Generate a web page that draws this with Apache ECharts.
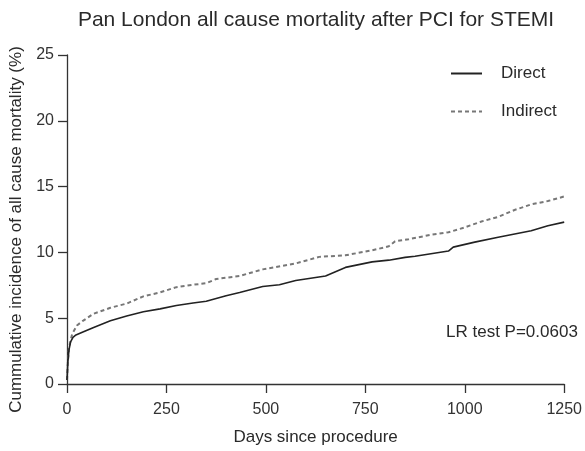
<!DOCTYPE html>
<html><head><meta charset="utf-8">
<script src="https://cdn.jsdelivr.net/npm/echarts@6/dist/echarts.min.js"></script>
<style>html,body{margin:0;padding:0;background:#fff}#c{width:585px;height:451px}</style>
</head><body><div id="c"></div>
<script>
var titleText = 'Pan London all cause mortality after PCI for STEMI';
var xName = 'Days since procedure';
var yName = 'Cummulative incidence of all cause mortality (%)';
var annotation = 'LR test P=0.0603';
var seriesNames = ['Direct', 'Indirect'];
var xTicks = [0, 250, 500, 750, 1000, 1250];
var yTicks = [0, 5, 10, 15, 20, 25];

var directDays = [0, 2, 5, 9, 15, 21, 40, 67, 109, 150, 192, 234, 275, 317, 350, 400, 434, 492, 534, 575, 650, 700, 767, 809, 850, 875, 959, 971, 1025, 1084, 1167, 1209, 1250];
var directVals = [0.3, 1.6, 2.6, 3.2, 3.55, 3.7, 3.95, 4.3, 4.8, 5.16, 5.49, 5.71, 5.96, 6.16, 6.29, 6.71, 6.95, 7.41, 7.54, 7.86, 8.21, 8.86, 9.28, 9.41, 9.62, 9.71, 10.1, 10.4, 10.78, 11.15, 11.65, 12.03, 12.3];

var indirectDays = [0, 2, 5, 9, 13, 25, 40, 67, 109, 150, 192, 234, 275, 317, 350, 375, 434, 492, 575, 634, 700, 767, 809, 825, 859, 917, 959, 1000, 1042, 1084, 1125, 1167, 1209, 1250];
var indirectVals = [0.3, 1.6, 2.7, 3.3, 3.8, 4.45, 4.8, 5.34, 5.79, 6.11, 6.66, 6.96, 7.36, 7.54, 7.66, 7.98, 8.21, 8.71, 9.16, 9.66, 9.78, 10.16, 10.46, 10.85, 11.0, 11.35, 11.53, 11.9, 12.35, 12.7, 13.22, 13.65, 13.9, 14.25];

function pairs(xs, ys) { return xs.map(function (x, i) { return [x, ys[i]]; }); }

var font = 'Liberation Sans, Arial, sans-serif';
var chart = echarts.init(document.getElementById('c'), null, { renderer: 'canvas' });
chart.setOption({
  animation: false,
  backgroundColor: '#fff',
  title: [
    { text: titleText, left: 316, top: 10, textAlign: 'center', padding: 0,
      textStyle: { fontFamily: font, fontSize: 21, fontWeight: 'normal', color: '#2a2a2a' } },
    { text: annotation, left: 446, top: 324, padding: 0,
      textStyle: { fontFamily: font, fontSize: 17, fontWeight: 'normal', color: '#2a2a2a' } }
  ],
  legend: {
    orient: 'vertical', left: 450, top: 65, itemGap: 21, padding: 0,
    itemWidth: 31, itemHeight: 14,
    itemStyle: { opacity: 0 },
    textStyle: { fontFamily: font, fontSize: 17, color: '#2a2a2a', padding: [0, 0, 0, 14] },
    data: seriesNames
  },
  grid: { left: 66.5, right: 18, top: 55, bottom: 62 },
  xAxis: {
    type: 'value', min: 0, max: 1250, interval: 250,
    name: xName, nameLocation: 'middle', nameGap: 45,
    nameTextStyle: { fontFamily: font, fontSize: 17, color: '#2a2a2a' },
    axisLine: { show: true, onZero: false, lineStyle: { color: '#333', width: 1.3 } },
    axisTick: { show: true, length: 9, lineStyle: { color: '#333', width: 1.3 } },
    axisLabel: { fontFamily: font, fontSize: 16, color: '#333', margin: 18,
      formatter: function (v) { return String(v); } },
    splitLine: { show: false }
  },
  yAxis: {
    type: 'value', min: 0, max: 25, interval: 5,
    name: yName, nameLocation: 'middle', nameGap: 42,
    nameTextStyle: { fontFamily: font, fontSize: 17, color: '#2a2a2a', padding: [0, 20, 0, 0] },
    axisLine: { show: true, lineStyle: { color: '#333', width: 1.3 } },
    axisTick: { show: true, length: 9, lineStyle: { color: '#333', width: 1.3 } },
    axisLabel: { fontFamily: font, fontSize: 16, color: '#333', margin: 13 },
    splitLine: { show: false }
  },
  series: [
    { name: seriesNames[0], type: 'line', symbol: 'none', data: pairs(directDays, directVals),
      itemStyle: { color: '#222' },
      lineStyle: { color: '#222', width: 1.6, type: 'solid' }, z: 3 },
    { name: seriesNames[1], type: 'line', symbol: 'none', data: pairs(indirectDays, indirectVals),
      itemStyle: { color: '#777' },
      lineStyle: { color: '#777', width: 2, type: [4, 3] }, z: 2 }
  ]
});
</script></body></html>
